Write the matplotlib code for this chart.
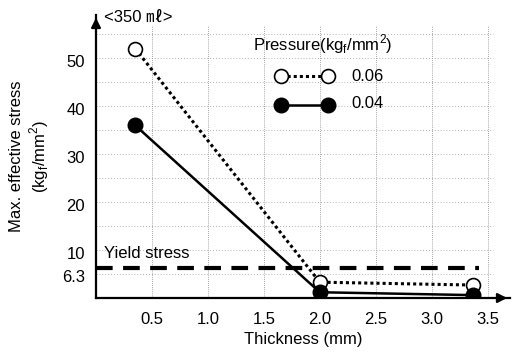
import matplotlib
matplotlib.use("Agg")
import matplotlib.pyplot as plt
import matplotlib.transforms as mtransforms
import numpy as np

plt.rcParams['font.family'] = ['Liberation Sans', 'DejaVu Sans', 'Noto Sans CJK KR']

thickness = [0.35, 2.0, 3.37]
stress_006 = [52.0, 3.3, 2.7]
stress_004 = [36.0, 1.2, 0.6]
yield_stress = 6.3
xticks = [0.5, 1.0, 1.5, 2.0, 2.5, 3.0, 3.5]
yticks = [6.3, 10, 20, 30, 40, 50]
ytick_labels = ['6.3', '10', '20', '30', '40', '50']
grid_y = [5, 10, 15, 20, 25, 30, 35, 40, 45, 50, 55]

fig = plt.figure(figsize=(5.12, 3.52), dpi=100)
ax = fig.add_axes([96/512, 54/352, 414/512, 283/352])
ax.set_xlim(0, 3.7)
ax.set_ylim(0, 59)

for s in ['top', 'right']:
    ax.spines[s].set_visible(False)
for s in ['left', 'bottom']:
    ax.spines[s].set_linewidth(1.6)
    ax.spines[s].set_color('black')

# arrows
ax.annotate('', xy=(1.0, 0), xycoords='axes fraction', xytext=(0.97, 0),
            arrowprops=dict(arrowstyle='-|>', color='black', lw=1.6, mutation_scale=14))
ax.annotate('', xy=(0, 1.0), xycoords='axes fraction', xytext=(0, 0.97),
            arrowprops=dict(arrowstyle='-|>', color='black', lw=1.6, mutation_scale=14))

# grid
for gy in grid_y:
    ax.plot([0, 3.55], [gy, gy], color='#999999', lw=0.6, ls=(0, (1, 2.5)), zorder=1)
for gx in xticks:
    ax.plot([gx, gx], [0, 57], color='#888888', lw=0.6, ls=(0, (1, 1.5)), zorder=1)

# yield stress
ax.plot([0, 3.42], [yield_stress, yield_stress], color='black', lw=3, ls=(0, (4, 2.5)), zorder=2)
ax.text(0.07, yield_stress + 1.5, 'Yield stress', fontsize=12, va='bottom', ha='left')

# data
ax.plot(thickness, stress_006, color='black', lw=2.2, ls=(0, (1, 1)), marker='o',
        markersize=10, markerfacecolor='white', markeredgecolor='black', markeredgewidth=1.2, zorder=4)
ax.plot(thickness, stress_004, color='black', lw=1.8, ls='-', marker='o',
        markersize=10.5, markerfacecolor='black', markeredgecolor='black', zorder=5)

ax.set_xticks(xticks)
ax.set_xticklabels(['0.5', '1.0', '1.5', '2.0', '2.5', '3.0', '3.5'], fontsize=12)
ax.set_yticks(yticks)
ax.set_yticklabels(ytick_labels, fontsize=12)
ax.tick_params(length=0, pad=8)
ax.tick_params(axis='x', pad=10)

# slight downward shift of y tick labels as in the reference
for lbl in ax.get_yticklabels():
    dy = -8 if lbl.get_text() == '6.3' else -3
    lbl.set_transform(lbl.get_transform() + mtransforms.ScaledTranslation(0, dy / 100, fig.dpi_scale_trans))

ax.set_xlabel('Thickness (mm)', fontsize=12, labelpad=4)
ax.set_ylabel('Max. effective stress\n(kg$_\\mathregular{f}$/mm$^\\mathregular{2}$)', fontsize=12, labelpad=8)

# title-like annotation
fig.text(104/512, 1 - 17/352, '<350 \u3396>', fontsize=12, ha='left', va='center')

# legend
ax.text(1.4, 53, 'Pressure(kg$_\\mathregular{f}$/mm$^\\mathregular{2}$)', fontsize=12, ha='left', va='center')
ax.plot([1.65, 2.07], [46.2, 46.2], color='black', lw=2.2, ls=(0, (1, 1)), marker='o',
        markersize=10, markerfacecolor='white', markeredgecolor='black', markeredgewidth=1.2, zorder=4)
ax.plot([1.65, 2.07], [40.2, 40.2], color='black', lw=1.8, ls='-', marker='o',
        markersize=10.5, markerfacecolor='black', zorder=5)
ax.text(2.28, 46.2, '0.06', fontsize=12, ha='left', va='center')
ax.text(2.28, 40.6, '0.04', fontsize=12, ha='left', va='center')

fig.savefig('out.png', dpi=100)
